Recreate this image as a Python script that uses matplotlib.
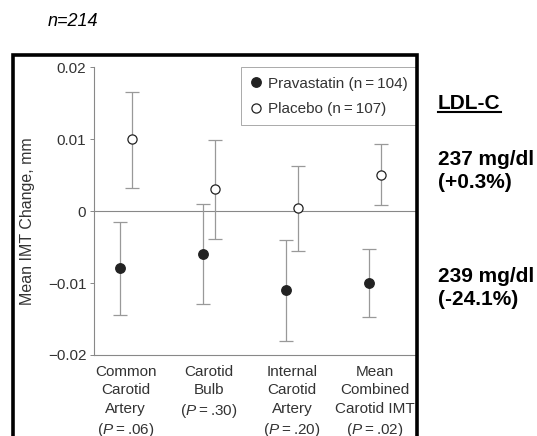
"""IMT change by carotid segment, pravastatin vs placebo."""

import matplotlib
matplotlib.use("Agg")
import matplotlib.pyplot as plt
from matplotlib.lines import Line2D
from matplotlib.patches import Rectangle

plt.rcParams.update({
    "font.family": ["Liberation Sans", "DejaVu Sans"],
    "mathtext.fontset": "custom",
    "mathtext.rm": "Liberation Sans",
    "mathtext.it": "Liberation Sans:italic",
    "font.size": 11,
})

TS = "\u2009"  # thin space, as in the journal typesetting
segments = [
    f"Common\nCarotid\nArtery\n($P${TS}={TS}.06)",
    f"Carotid\nBulb\n($P${TS}={TS}.30)",
    f"Internal\nCarotid\nArtery\n($P${TS}={TS}.20)",
    f"Mean\nCombined\nCarotid IMT\n($P${TS}={TS}.02)",
]
prava_mean = [-0.0079, -0.0059, -0.0110, -0.0100]
prava_lo = [-0.0144, -0.0129, -0.0180, -0.0147]
prava_hi = [-0.0015, 0.0010, -0.0040, -0.0052]
plac_mean = [0.0100, 0.0031, 0.0004, 0.0050]
plac_lo = [0.0033, -0.0038, -0.0055, 0.0008]
plac_hi = [0.0166, 0.0099, 0.0063, 0.0093]
yticks = [-0.02, -0.01, 0, 0.01, 0.02]
ytick_labels = ["\u22120.02", "\u22120.01", "0", "0.01", "0.02"]
legend_labels = [f"Pravastatin (n{TS}={TS}104)", f"Placebo (n{TS}={TS}107)"]

W, H = 537, 436


def main():
    fig = plt.figure(figsize=(W / 100, H / 100), dpi=100)
    ax = fig.add_axes([94 / W, 1 - 355 / H, (417 - 94) / W, (355 - 67.5) / H])

    xs = list(range(1, len(segments) + 1))
    off = 0.072
    grey = "#999999"

    for k, x in enumerate(xs):
        ax.errorbar(x - off, prava_mean[k],
                    yerr=[[prava_mean[k] - prava_lo[k]], [prava_hi[k] - prava_mean[k]]],
                    fmt="o", ms=6.8, mfc="#222222", mec="#222222",
                    ecolor=grey, elinewidth=0.9, capsize=4.7, capthick=0.9, zorder=3)
        ax.errorbar(x + off, plac_mean[k],
                    yerr=[[plac_mean[k] - plac_lo[k]], [plac_hi[k] - plac_mean[k]]],
                    fmt="o", ms=6.6, mfc="white", mec="#222222", mew=0.9,
                    ecolor=grey, elinewidth=0.9, capsize=4.7, capthick=0.9, zorder=3)

    ax.axhline(0, color="#888888", lw=0.8, zorder=1)
    ax.set_xlim(0.62, 4.505)
    ax.set_ylim(-0.02, 0.02)
    ax.set_yticks(yticks)
    ax.set_yticklabels(ytick_labels)
    ax.set_xticks(xs)
    ax.set_xticklabels(segments, linespacing=1.4, va="top")
    ax.tick_params(axis="x", length=0, pad=7, colors="#333333")
    ax.tick_params(axis="y", length=3, width=0.7, pad=2.5, color="#888888", labelcolor="#333333")
    for s in ("top", "right"):
        ax.spines[s].set_visible(False)
    for s in ("left", "bottom"):
        ax.spines[s].set_color("#888888")
        ax.spines[s].set_linewidth(0.8)

    ax.set_ylabel("Mean IMT Change, mm", color="#333333", fontsize=11.5)
    ax.yaxis.set_label_coords(-0.183, 0.466)

    handles = [
        Line2D([], [], ls="", marker="o", ms=6.8, mfc="#222222", mec="#222222"),
        Line2D([], [], ls="", marker="o", ms=6.6, mfc="white", mec="#222222", mew=0.9),
    ]
    leg = ax.legend(handles, legend_labels,
                    loc="upper right", bbox_to_anchor=(1.0, 1.0), borderaxespad=0,
                    fancybox=False, edgecolor="#aaaaaa", framealpha=1,
                    handlelength=0.7, handletextpad=0.45, labelspacing=0.75,
                    borderpad=0.6, fontsize=11, labelcolor="#333333")
    leg.get_frame().set_linewidth(0.7)

    # thick black frame around the plot (runs off the bottom edge)
    fig.add_artist(Rectangle((12.5 / W, -0.1), (416.5 - 12.5) / W, 1 - 55 / H + 0.1,
                             transform=fig.transFigure, fill=False,
                             edgecolor="black", lw=2.6, clip_on=False, zorder=5))

    fig.text(48 / W, 1 - 26.5 / H, "n=214", style="italic", fontsize=13, va="baseline")

    fs = 15
    fig.text(438 / W, 1 - 108.5 / H, "LDL-C", weight="bold", fontsize=fs, va="baseline")
    fig.add_artist(Line2D([438 / W, 501 / W], [1 - 112 / H, 1 - 112 / H],
                          color="black", lw=1.5, transform=fig.transFigure))
    fig.text(438 / W, 1 - 165 / H, "237 mg/dl", weight="bold", fontsize=fs, va="baseline")
    fig.text(438 / W, 1 - 188 / H, "(+0.3%)", weight="bold", fontsize=fs, va="baseline")
    fig.text(438 / W, 1 - 282 / H, "239 mg/dl", weight="bold", fontsize=fs, va="baseline")
    fig.text(438 / W, 1 - 305 / H, "(-24.1%)", weight="bold", fontsize=fs, va="baseline")

    fig.savefig("out.png", dpi=100)


if __name__ == "__main__":
    main()
